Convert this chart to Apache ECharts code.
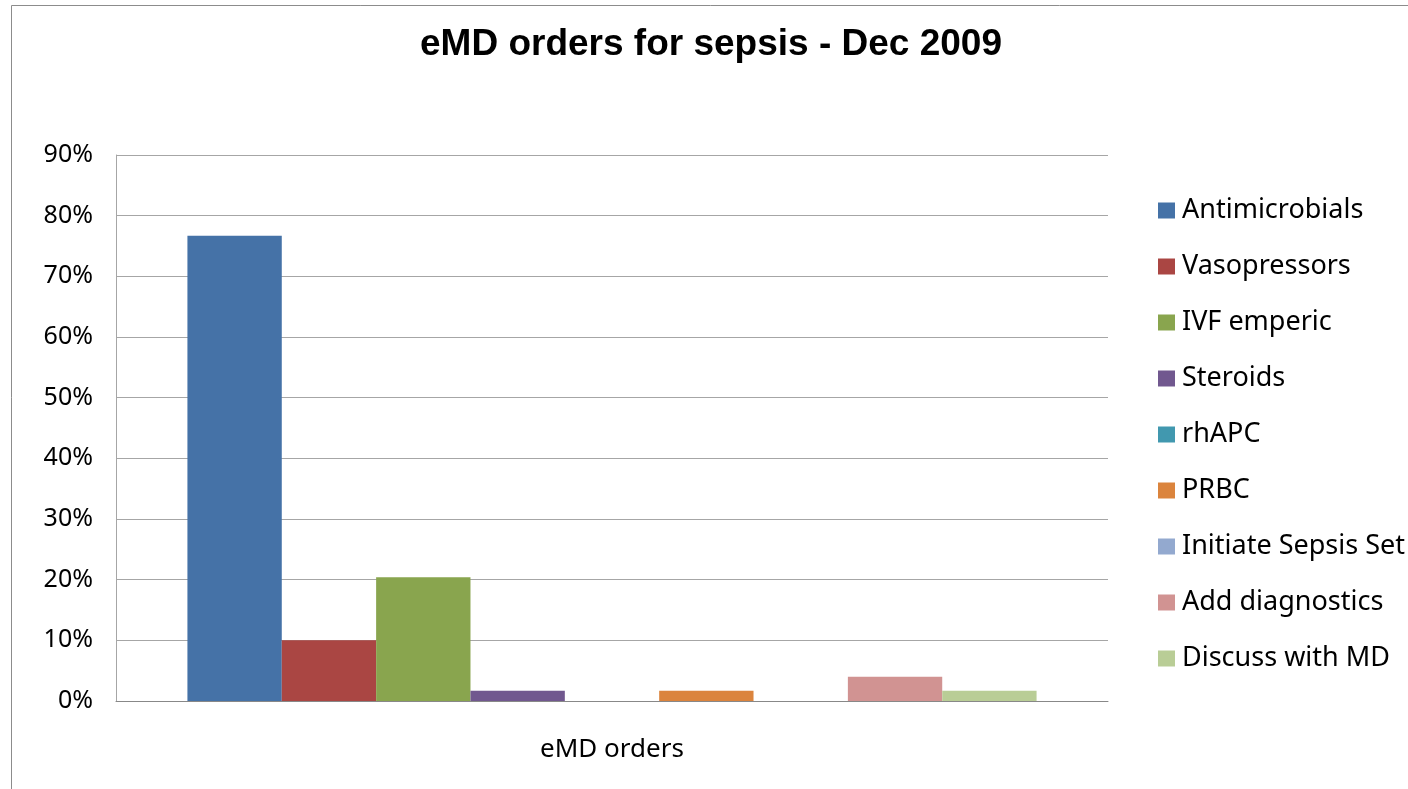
<!DOCTYPE html>
<html>
<head>
<meta charset="utf-8">
<script src="https://cdn.jsdelivr.net/npm/echarts@6/dist/echarts.min.js"></script>
<style>
  html, body { margin: 0; padding: 0; background: #fff; }
  #chart { width: 1408px; height: 789px; }
</style>
</head>
<body>
<div id="chart"></div>
<script>
// Share of eMD orders per order type, December 2009 (percent)
const categories = ['eMD orders'];
const seriesNames = ['Antimicrobials', 'Vasopressors', 'IVF emperic', 'Steroids', 'rhAPC',
  'PRBC', 'Initiate Sepsis Set', 'Add diagnostics', 'Discuss with MD'];
const seriesValues = [76.7, 10.0, 20.4, 1.7, 0, 1.7, 0, 4.0, 1.7];
const seriesColors = ['#4572A7', '#AA4643', '#89A54E', '#71588F', '#4198AF',
  '#DB843D', '#93A9CF', '#D19392', '#B9CD96'];
const yTicks = { min: 0, max: 90, interval: 10 };

const labelFont = '"Noto Sans", "Open Sans", sans-serif';

const chart = echarts.init(document.getElementById('chart'), null, { renderer: 'canvas' });

const series = seriesNames.map((name, i) => ({
  name: name,
  type: 'bar',
  data: [seriesValues[i]],
  itemStyle: { color: seriesColors[i] },
  barGap: '0%',
  barCategoryGap: '14.4%'
}));

chart.setOption({
  backgroundColor: '#ffffff',
  animation: false,
  title: {
    text: 'eMD orders for sepsis - Dec 2009',
    left: 711,
    textAlign: 'center',
    top: 26,
    padding: 0,
    textStyle: {
      fontFamily: '"Liberation Sans", Arial, sans-serif',
      fontWeight: 'bold',
      fontSize: 37,
      color: '#000'
    }
  },
  graphic: [{
    type: 'rect',
    shape: { x: 11.5, y: 5.5, width: 1420, height: 800 },
    style: { fill: 'none', stroke: '#8c8c8c', lineWidth: 1 },
    silent: true,
    z: -1
  }],
  legend: {
    orient: 'vertical',
    left: 1158,
    top: 197,
    padding: 0,
    itemWidth: 17,
    itemHeight: 16,
    itemGap: 29,
    icon: 'rect',
    textStyle: { fontFamily: labelFont, fontSize: 27, color: '#000', padding: [0, 0, 0, 2] },
    data: seriesNames
  },
  grid: { left: 116, right: 300, top: 155, bottom: 88, containLabel: false },
  xAxis: {
    type: 'category',
    data: categories,
    axisLine: { show: true, lineStyle: { color: '#888888', width: 1 } },
    axisTick: { show: false },
    axisLabel: { margin: 36, fontFamily: labelFont, fontSize: 26, color: '#000' }
  },
  yAxis: {
    type: 'value',
    min: yTicks.min,
    max: yTicks.max,
    interval: yTicks.interval,
    axisLine: { show: true, lineStyle: { color: '#a6a6a6', width: 1 } },
    axisTick: { show: false },
    splitLine: { show: true, lineStyle: { color: '#a6a6a6', width: 1 } },
    axisLabel: {
      formatter: '{value}%',
      margin: 23,
      fontFamily: labelFont,
      fontSize: 25,
      color: '#000'
    }
  },
  series: series
});
</script>
</body>
</html>
